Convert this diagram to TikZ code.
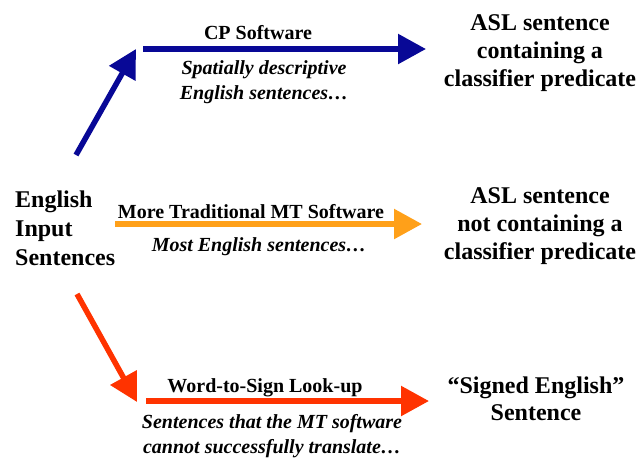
\documentclass[tikz,border=0pt]{standalone}
\usepackage{fontspec}
\setmainfont{Liberation Serif}
\usetikzlibrary{arrows.meta}
\definecolor{cpblue}{RGB}{8,8,150}
\definecolor{mtorange}{RGB}{255,160,25}
\definecolor{wsred}{RGB}{255,51,0}
\begin{document}
\begin{tikzpicture}[x=1pt,y=-1pt,
  big/.style={font=\fontsize{24}{28}\selectfont\bfseries, align=center, inner sep=0pt, anchor=base},
  lab/.style={font=\fontsize{20}{24}\selectfont\bfseries, inner sep=0pt, anchor=base},
  note/.style={font=\fontsize{20}{25}\selectfont\bfseries\itshape, align=center, inner sep=0pt, anchor=base},
  arr/.style={line width=5.5pt, -{Triangle[length=28pt,width=29pt]}},
]
\useasboundingbox (0,0) rectangle (636,459);
% left source (anchor = baseline of last line)
\node[font=\fontsize{24}{29}\selectfont\bfseries, align=left, inner sep=0pt, anchor=base west] (src) at (15,265) {English\\Input\\Sentences};
% targets
\node[big] (asl1) at (540,86) {ASL sentence\\containing a\\classifier predicate};
\node[big] (asl2) at (540,259) {ASL sentence\\not containing a\\classifier predicate};
\node[big, font=\fontsize{24}{27}\selectfont\bfseries] (se) at (536,420) {“Signed English”\\Sentence};
% labels
\node[lab] (cpl) at (258,39) {CP Software};
\node[note] (cpn) at (264,99) {Spatially descriptive\\English sentences…};
\node[lab] (mtl) at (251,218) {More Traditional MT Software};
\node[note] (mtn) at (259,251) {Most English sentences…};
\node[lab] (wsl) at (265,392) {Word-to-Sign Look-up};
\node[note] (wsn) at (272,453) {Sentences that the MT software\\cannot successfully translate…};
% arrow end points
\coordinate (bd0) at (76,155);
\coordinate (bd1) at (136,49);
\coordinate (b0) at (143,49);
\coordinate (b1) at (426,49);
\coordinate (o0) at (115,224);
\coordinate (o1) at (422,224);
\coordinate (rd0) at (77,294);
\coordinate (rd1) at (137,402);
\coordinate (r0) at (146,401);
\coordinate (r1) at (429,401);
% arrows
\draw[arr, cpblue] (bd0) -- (bd1);
\draw[arr, cpblue] (b0) -- (b1);
\draw[arr, mtorange] (o0) -- (o1);
\draw[arr, wsred] (rd0) -- (rd1);
\draw[arr, wsred] (r0) -- (r1);
\end{tikzpicture}
\end{document}
